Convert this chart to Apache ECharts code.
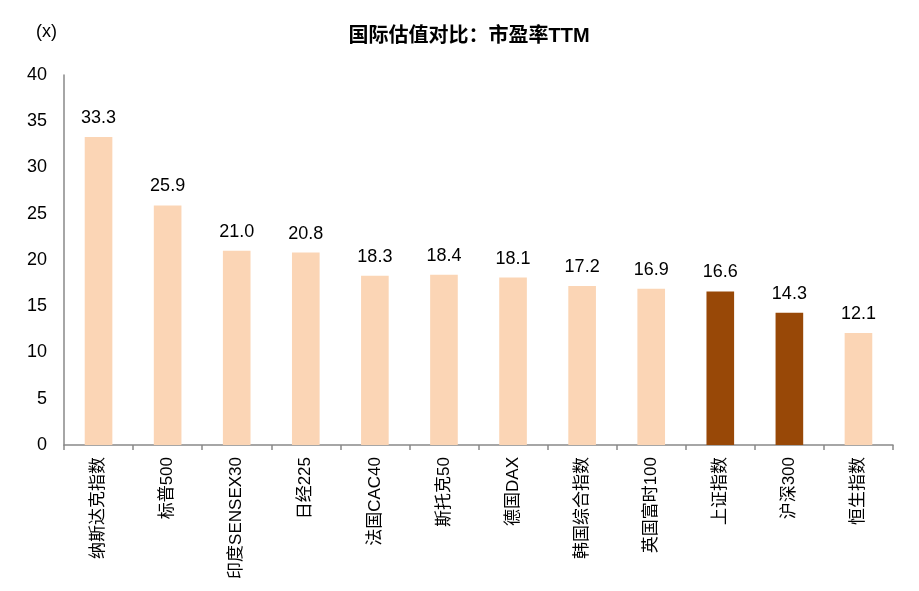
<!DOCTYPE html>
<html lang="zh" style="height: 100%">
<head>
  <meta charset="utf-8">
</head>
<body style="height: 100%; margin: 0; background: #fff">
  <div id="container" style="width: 919px; height: 591px"></div>
  <script type="text/javascript" src="https://fastly.jsdelivr.net/npm/echarts@6.0.0/dist/echarts.min.js"></script>
  <script type="text/javascript">
    var categories = ['纳斯达克指数', '标普500', '印度SENSEX30', '日经225', '法国CAC40', '斯托克50',
      '德国DAX', '韩国综合指数', '英国富时100', '上证指数', '沪深300', '恒生指数'];
    var peValues = [33.3, 25.9, 21.0, 20.8, 18.3, 18.4, 18.1, 17.2, 16.9, 16.6, 14.3, 12.1];
    // which bars are mainland China indices (dark colour)
    var highlight = ['上证指数', '沪深300'];
    var yTicks = { min: 0, max: 40, interval: 5 };

    var FONT = '"Liberation Sans", Arial, "Noto Sans CJK SC", sans-serif';
    var LIGHT = '#FBD5B5';
    var DARK = '#984807';

    var dom = document.getElementById('container');
    var myChart = echarts.init(dom, null, { renderer: 'canvas' });

    var option = {
      animation: false,
      textStyle: { fontFamily: FONT },
      title: [{
        text: '国际估值对比：市盈率TTM',
        left: 464,
        textAlign: 'center',
        top: 21,
        textStyle: { fontSize: 20, fontWeight: 'bold', color: '#000', fontFamily: FONT }
      }, {
        text: '(x)',
        left: 31,
        top: 18,
        textStyle: { fontSize: 18, fontWeight: 'normal', color: '#000', fontFamily: FONT }
      }],
      grid: { left: 64, right: 26, top: 75, bottom: 146, containLabel: false },
      xAxis: {
        type: 'category',
        data: categories,
        axisLine: { lineStyle: { color: '#898989', width: 1.5 } },
        axisTick: { show: true, length: 5, lineStyle: { color: '#898989', width: 1.5 } },
        axisLabel: {
          rotate: 90,
          interval: 0,
          margin: 12,
          color: '#000',
          fontSize: 17,
          fontFamily: FONT
        }
      },
      yAxis: {
        type: 'value',
        min: yTicks.min,
        max: yTicks.max,
        interval: yTicks.interval,
        axisLine: { show: true, lineStyle: { color: '#898989', width: 1.5 } },
        axisTick: { show: false },
        splitLine: { show: false },
        axisLabel: { color: '#000', fontSize: 18, margin: 17, fontFamily: FONT }
      },
      series: [{
        type: 'bar',
        barWidth: '40%',
        data: peValues.map(function (v, i) {
          return {
            value: v,
            itemStyle: { color: highlight.indexOf(categories[i]) >= 0 ? DARK : LIGHT }
          };
        }),
        label: {
          show: true,
          position: 'top',
          distance: 10,
          color: '#000',
          fontSize: 18,
          fontFamily: FONT,
          formatter: function (p) { return p.value.toFixed(1); }
        }
      }]
    };

    myChart.setOption(option);
    window.addEventListener('resize', myChart.resize);
  </script>
</body>
</html>
